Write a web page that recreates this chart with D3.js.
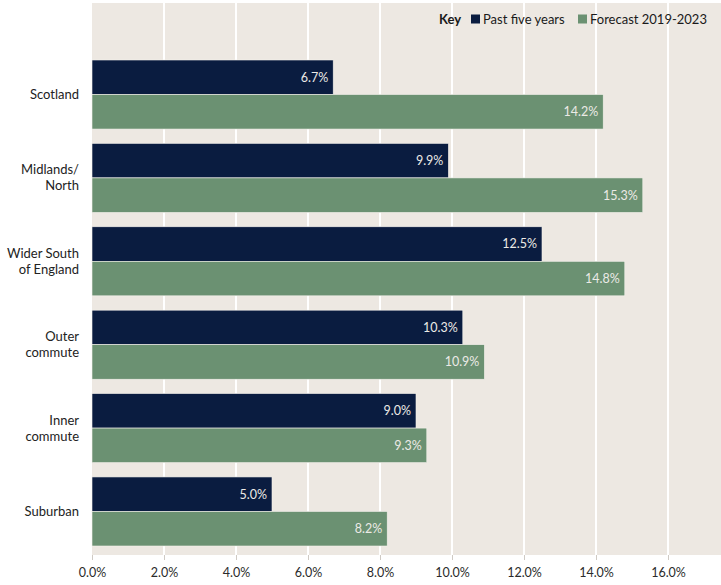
<!DOCTYPE html>
<html><head><meta charset="utf-8">
<script src="https://cdn.jsdelivr.net/npm/d3@7"></script>
<style>
body{margin:0;background:#fff;}
svg{display:block;font-family:Lato, "Open Sans", sans-serif;}
</style></head>
<body>
<svg id="chart" width="721" height="585"></svg>
<script>
const categories = ["Scotland", "Midlands/\nNorth", "Wider South\nof England", "Outer\ncommute", "Inner\ncommute", "Suburban"];
const seriesNames = ["Past five years", "Forecast 2019-2023"];
const pastFiveYears = [6.7, 9.9, 12.5, 10.3, 9.0, 5.0];
const forecast = [14.2, 15.3, 14.8, 10.9, 9.3, 8.2];
const tickValues = [0, 2, 4, 6, 8, 10, 12, 14, 16];
const colors = ["#0a1c40", "#6b9172"];

const svg = d3.select("#chart");
const plot = {left: 92, right: 721, top: 3, bottom: 555};

const x = d3.scaleLinear().domain([0, (plot.right - plot.left) / 36]).range([plot.left, plot.right]);
const y = d3.scaleBand().domain(categories).range([60, 546]).paddingInner(0.172).paddingOuter(0).align(0);
const ySub = d3.scaleBand().domain(seriesNames).range([0, y.bandwidth()]);

svg.append("rect").attr("x", plot.left).attr("y", plot.top)
  .attr("width", plot.right - plot.left).attr("height", plot.bottom - plot.top)
  .attr("fill", "#ede8e2");

// gridlines
svg.append("g").selectAll("line").data(tickValues.filter(d => d > 0)).join("line")
  .attr("x1", d => x(d)).attr("x2", d => x(d))
  .attr("y1", plot.top).attr("y2", plot.bottom)
  .attr("stroke", "#ffffff").attr("stroke-width", 2);

// x axis
const xAxis = d3.axisBottom(x).tickValues(tickValues).tickFormat(d => d.toFixed(1) + "%").tickSize(5).tickPadding(8);
const gx = svg.append("g").attr("transform", `translate(0,${plot.bottom})`).call(xAxis);
gx.select(".domain").remove();
gx.selectAll(".tick line").attr("stroke", "#cfcac4");
gx.selectAll(".tick text").attr("fill", "#2b2b2b").attr("font-size", 12.5).attr("font-family", "Lato, sans-serif");

const data = categories.map((c, i) => ({cat: c, vals: [
  {s: seriesNames[0], v: pastFiveYears[i], c: colors[0]},
  {s: seriesNames[1], v: forecast[i], c: colors[1]}
]}));

const groups = svg.append("g").selectAll("g").data(data).join("g")
  .attr("transform", d => `translate(0,${y(d.cat)})`);

groups.selectAll("rect").data(d => d.vals).join("rect")
  .attr("x", x(0)).attr("y", d => ySub(d.s))
  .attr("width", d => x(d.v) - x(0)).attr("height", ySub.bandwidth())
  .attr("fill", d => d.c).attr("stroke", "#f4f1ec").attr("stroke-width", 0.6);

groups.selectAll("text.val").data(d => d.vals).join("text").attr("class", "val")
  .attr("x", d => x(d.v) - 5).attr("y", d => ySub(d.s) + ySub.bandwidth() / 2)
  .attr("dy", "0.35em").attr("text-anchor", "end")
  .attr("fill", "#eceae6").attr("font-size", 12.5)
  .text(d => d.v.toFixed(1) + "%");

// category labels
groups.append("text").attr("text-anchor", "end").attr("fill", "#222").attr("font-size", 13)
  .each(function(d) {
    const lines = d.cat.split("\n");
    const t = d3.select(this);
    const lh = 16;
    const start = y.bandwidth() / 2 - (lines.length - 1) * lh / 2;
    lines.forEach((l, i) => {
      t.append("tspan").attr("x", 79).attr("y", start + i * lh).attr("dy", "0.35em").text(l);
    });
  });

// legend
const lg = svg.append("g").attr("font-size", 13).attr("fill", "#1a1a1a");
lg.append("text").attr("x", 439).attr("y", 19).attr("dy", "0.35em").attr("font-weight", "bold").text("Key");
const legX = [471, 578];
seriesNames.forEach((s, i) => {
  lg.append("rect").attr("x", legX[i]).attr("y", 14.5).attr("width", 9).attr("height", 9).attr("fill", colors[i]);
  lg.append("text").attr("x", legX[i] + 12).attr("y", 19).attr("dy", "0.35em").text(s);
});
</script>
</body></html>
